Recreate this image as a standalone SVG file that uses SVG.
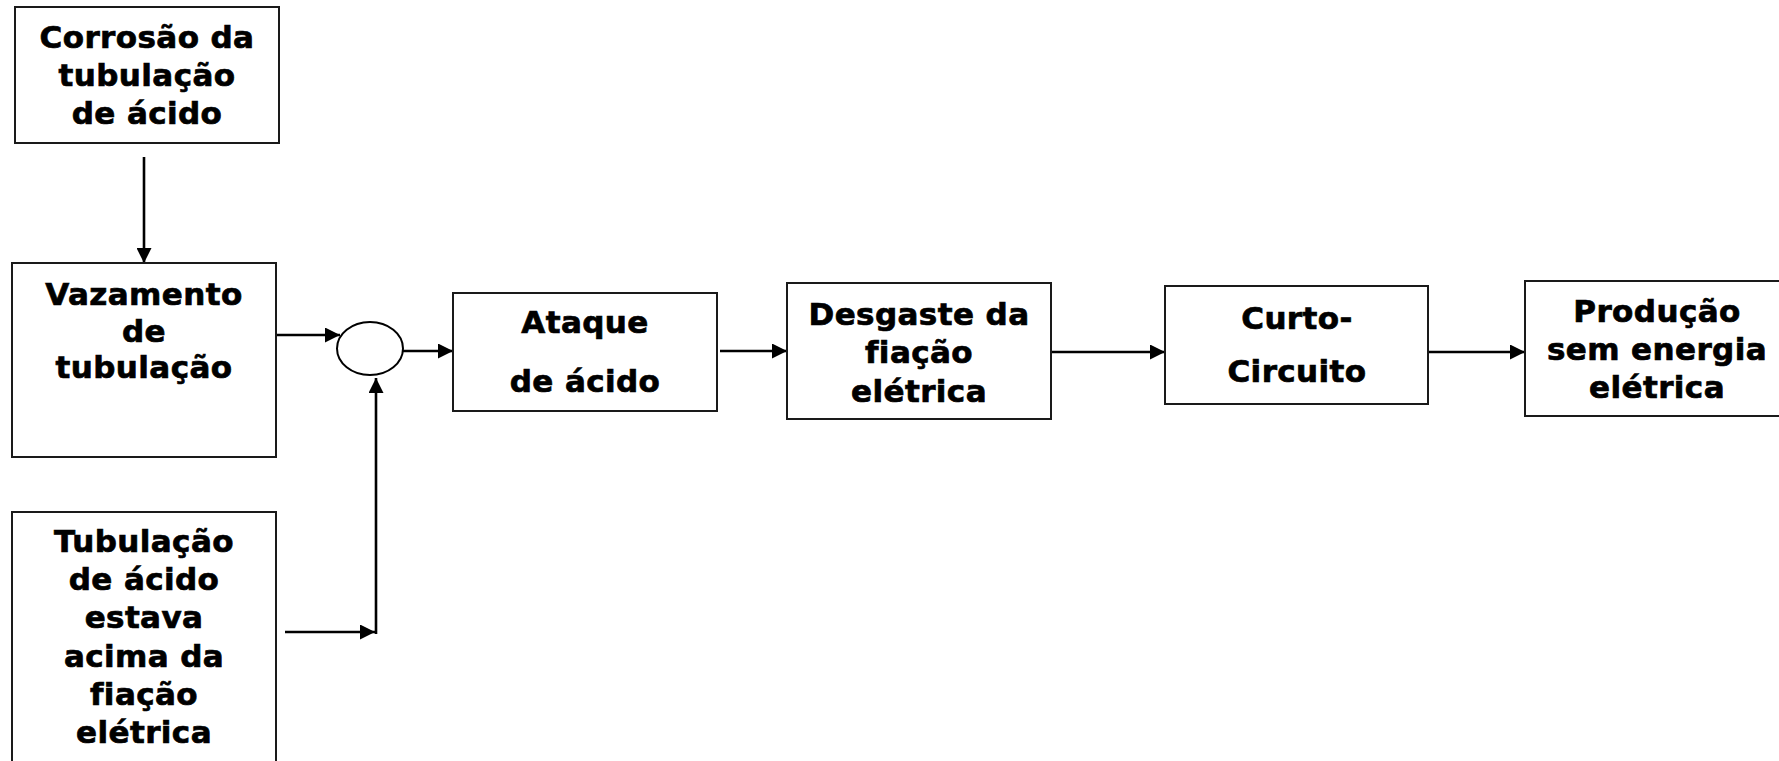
<svg xmlns="http://www.w3.org/2000/svg" width="1779" height="761" viewBox="0 0 1779 761">
<style>
.box{fill:#fff;stroke:#1a1a1a;stroke-width:2}
.t{font-family:"DejaVu Sans","Verdana",sans-serif;font-weight:bold;font-size:31px;fill:#000;stroke:#000;stroke-width:0.7;letter-spacing:0.4px;text-anchor:middle}
.c{fill:none;stroke:#000;stroke-width:2.6}
</style>
<defs>
<marker id="ah" markerUnits="userSpaceOnUse" markerWidth="16" markerHeight="15" refX="15" refY="7.5" orient="auto">
<path d="M0,0 L15,7.5 L0,15 z" fill="#000"/>
</marker>
</defs>
<rect width="1779" height="761" fill="#fff"/>
<g id="connectors">
<path class="c" d="M144,157 L144,263" marker-end="url(#ah)"/>
<path class="c" d="M276,335 L340,335" marker-end="url(#ah)"/>
<path class="c" d="M285,632 L375,632" marker-end="url(#ah)"/>
<path class="c" d="M376,634 L376,378" marker-end="url(#ah)"/>
<path class="c" d="M403,351 L453,351" marker-end="url(#ah)"/>
<path class="c" d="M720,351 L787,351" marker-end="url(#ah)"/>
<path class="c" d="M1052,352 L1165,352" marker-end="url(#ah)"/>
<path class="c" d="M1428,352 L1525,352" marker-end="url(#ah)"/>
</g>
<g id="n1">
<rect class="box" x="15" y="7" width="264" height="136"/>
<text class="t" x="147" y="48">Corrosão da</text>
<text class="t" x="147" y="86">tubulação</text>
<text class="t" x="147" y="124">de ácido</text>
</g>
<g id="n2">
<rect class="box" x="12" y="263" width="264" height="194"/>
<text class="t" x="144" y="305">Vazamento</text>
<text class="t" x="144" y="342">de</text>
<text class="t" x="144" y="378">tubulação</text>
</g>
<g id="n3">
<rect class="box" x="12" y="512" width="264" height="260"/>
<text class="t" x="144" y="552">Tubulação</text>
<text class="t" x="144" y="590">de ácido</text>
<text class="t" x="144" y="628">estava</text>
<text class="t" x="144" y="667">acima da</text>
<text class="t" x="144" y="705">fiação</text>
<text class="t" x="144" y="743">elétrica</text>
</g>
<g id="junction">
<ellipse cx="370" cy="348.5" rx="33" ry="26.5" fill="#fff" stroke="#000" stroke-width="2"/>
</g>
<g id="n4">
<rect class="box" x="453" y="293" width="264" height="118"/>
<text class="t" x="585" y="333">Ataque</text>
<text class="t" x="585" y="392">de ácido</text>
</g>
<g id="n5">
<rect class="box" x="787" y="283" width="264" height="136"/>
<text class="t" x="919" y="325">Desgaste da</text>
<text class="t" x="919" y="363">fiação</text>
<text class="t" x="919" y="402">elétrica</text>
</g>
<g id="n6">
<rect class="box" x="1165" y="286" width="263" height="118"/>
<text class="t" x="1297" y="329">Curto-</text>
<text class="t" x="1297" y="382">Circuito</text>
</g>
<g id="n7">
<rect class="box" x="1525" y="281" width="265" height="135"/>
<text class="t" x="1657" y="322">Produção</text>
<text class="t" x="1657" y="360">sem energia</text>
<text class="t" x="1657" y="398">elétrica</text>
</g>
</svg>
